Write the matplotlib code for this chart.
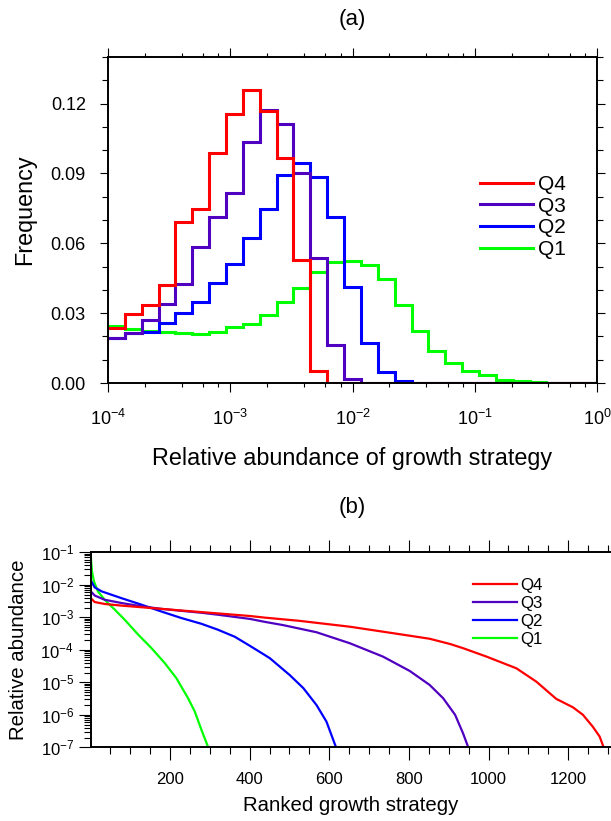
import numpy as np
import matplotlib
matplotlib.use("Agg")
import matplotlib.pyplot as plt
from matplotlib.ticker import LogLocator, MultipleLocator, FuncFormatter, NullFormatter

plt.rcParams['font.family'] = ['Liberation Sans', 'DejaVu Sans']
plt.rcParams['mathtext.fontset'] = 'custom'
plt.rcParams['mathtext.rm'] = 'Liberation Sans'
plt.rcParams['mathtext.default'] = 'regular'

# ---- panel (a): histogram of relative abundance (29 log-spaced bins, 1e-4 .. 1) ----
n_bins = 29
q4_freq = [0.0238, 0.0298, 0.0336, 0.0423, 0.0691, 0.0746, 0.0989, 0.1157, 0.1258, 0.1169,
           0.0968, 0.0528, 0.0050, 0, 0, 0, 0, 0, 0, 0, 0, 0, 0, 0, 0, 0, 0, 0, 0]
q3_freq = [0.0192, 0.0213, 0.0272, 0.0341, 0.0426, 0.0585, 0.0713, 0.0815, 0.1035, 0.1172,
           0.1114, 0.0903, 0.0535, 0.0165, 0.0017, 0.0002, 0, 0, 0, 0, 0, 0, 0, 0, 0, 0, 0, 0, 0]
q2_freq = [0.0195, 0.0214, 0.0220, 0.0258, 0.0301, 0.0347, 0.0430, 0.0513, 0.0622, 0.0749,
           0.0892, 0.0946, 0.0886, 0.0714, 0.0413, 0.0172, 0.0047, 0.0007, 0, 0, 0, 0, 0, 0, 0, 0, 0, 0, 0]
q1_freq = [0.0244, 0.0234, 0.0222, 0.0219, 0.0215, 0.0211, 0.0218, 0.0241, 0.0255, 0.0294,
           0.0347, 0.0409, 0.0476, 0.0519, 0.0526, 0.0506, 0.0445, 0.0334, 0.0222, 0.0139,
           0.0086, 0.0050, 0.0033, 0.0014, 0.0009, 0.0004, 0.0002, 0.0001, 0]

# ---- panel (b): ranked relative abundance (log10 values) ----
q4_rank = [1, 11, 36, 78, 128, 178, 228, 279, 320, 401, 438, 526, 652, 777, 852, 903, 936,
           995, 1070, 1120, 1170, 1212, 1237, 1262, 1279, 1289]
q4_log = [-2.41, -2.53, -2.59, -2.64, -2.69, -2.74, -2.79, -2.84, -2.88, -2.96, -3.01, -3.11,
          -3.29, -3.52, -3.66, -3.82, -3.95, -4.21, -4.57, -4.98, -5.51, -5.77, -6.0, -6.37,
          -6.67, -7.0]
q3_rank = [1, 11, 36, 78, 128, 178, 228, 279, 320, 401, 438, 484, 568, 652, 735, 802, 852,
           886, 916, 936, 949]
q3_log = [-2.2, -2.33, -2.46, -2.56, -2.66, -2.74, -2.80, -2.86, -2.92, -3.05, -3.14, -3.24,
          -3.46, -3.80, -4.21, -4.65, -5.08, -5.49, -6.0, -6.57, -7.0]
q2_rank = [1, 11, 28, 78, 128, 178, 228, 279, 320, 363, 401, 438, 451, 501, 535, 568, 593, 617]
q2_log = [-1.86, -2.08, -2.2, -2.41, -2.61, -2.82, -3.02, -3.2, -3.38, -3.60, -3.88, -4.16,
          -4.26, -4.78, -5.18, -5.70, -6.21, -7.0]
q1_rank = [1, 4, 9, 19, 36, 61, 86, 120, 153, 187, 216, 245, 262, 279, 296]
q1_log = [-1.07, -1.58, -1.89, -2.2, -2.46, -2.76, -3.07, -3.53, -3.94, -4.41, -4.87, -5.48,
          -5.89, -6.46, -7.0]

labels = ['Q4', 'Q3', 'Q2', 'Q1']
colors = ['#ff0000', '#5000c0', '#0000ff', '#00ff00']

W, H = 611, 821
fig = plt.figure(figsize=(W / 100, H / 100), dpi=100)

def px_axes(l, t, r, b):
    return fig.add_axes([l / W, 1 - b / H, (r - l) / W, (b - t) / H])

def pow10(v, pos):
    return r'$10^{%d}$' % round(np.log10(v))

# --- (a) ---
ax1 = px_axes(108, 57, 597, 383)
edges = 10 ** np.linspace(-4, 0, n_bins + 1)
freqs = [q4_freq, q3_freq, q2_freq, q1_freq]
for i in [3, 2, 1, 0]:
    ax1.stairs(freqs[i], edges, baseline=None, color=colors[i], lw=2.2, label=labels[i])
ax1.set_xscale('log')
ax1.set_xlim(1e-4, 1)
ax1.set_ylim(0, 0.14)
ax1.xaxis.set_major_locator(LogLocator(base=10, numticks=10))
ax1.xaxis.set_minor_locator(LogLocator(base=10, subs=(2, 4, 6, 8), numticks=10))
ax1.xaxis.set_major_formatter(FuncFormatter(pow10))
ax1.xaxis.set_minor_formatter(NullFormatter())
ax1.yaxis.set_major_locator(MultipleLocator(0.03))
ax1.yaxis.set_minor_locator(MultipleLocator(0.01))
ax1.yaxis.set_major_formatter(FuncFormatter(lambda v, p: '%.2f' % v))
ax1.tick_params(which='both', direction='out', top=True, right=True, width=0.8)
ax1.tick_params(axis='x', which='major', length=6.5, labelsize=13, pad=12)
ax1.tick_params(axis='x', which='minor', length=3)
ax1.tick_params(axis='y', which='major', length=6, labelsize=13, pad=10)
ax1.tick_params(axis='y', which='minor', length=4)
for s in ax1.spines.values():
    s.set_linewidth(1.4)
h, l = ax1.get_legend_handles_labels()
ax1.legend(h[::-1], l[::-1], loc='upper left', bbox_to_anchor=(480 / W, 1 - 175 / H),
           bbox_transform=fig.transFigure, frameon=False, fontsize=15, handlelength=2.55,
           handletextpad=0.25, labelspacing=0.13, borderpad=0, borderaxespad=0)

fig.text(352 / W, 1 - 20 / H, '(a)', ha='center', va='center', fontsize=16)
fig.text(352 / W, 1 - 458 / H, 'Relative abundance of growth strategy', ha='center',
         va='center', fontsize=16.8)
fig.text(25 / W, 1 - 210 / H, 'Frequency', ha='center', va='center', rotation=90, fontsize=16.8)

# --- (b) ---
ax2 = px_axes(90.7, 552.3, 612, 747.3)
ranks = [q4_rank, q3_rank, q2_rank, q1_rank]
logs = [q4_log, q3_log, q2_log, q1_log]
for i in [3, 2, 1, 0]:
    ax2.plot(ranks[i], 10 ** np.array(logs[i]), color=colors[i], lw=1.6, label=labels[i])
ax2.set_yscale('log')
ax2.set_xlim(1, 1310)
ax2.set_ylim(1e-7, 1e-1)
ax2.xaxis.set_major_locator(MultipleLocator(200))
ax2.xaxis.set_minor_locator(MultipleLocator(50))
ax2.yaxis.set_major_locator(LogLocator(base=10, numticks=10))
ax2.yaxis.set_minor_locator(LogLocator(base=10, subs=np.arange(2, 10), numticks=10))
ax2.yaxis.set_major_formatter(FuncFormatter(pow10))
ax2.yaxis.set_minor_formatter(NullFormatter())
ax2.tick_params(which='both', direction='out', top=True, right=True, width=0.8)
ax2.tick_params(which='major', length=9, labelsize=12, pad=3)
ax2.tick_params(axis='x', which='major', pad=9)
ax2.tick_params(which='minor', length=5)
for s in ax2.spines.values():
    s.set_linewidth(1.4)
h, l = ax2.get_legend_handles_labels()
ax2.legend(h[::-1], l[::-1], loc='upper left', bbox_to_anchor=(473 / W, 1 - 578 / H),
           bbox_transform=fig.transFigure, frameon=False, fontsize=12.2, handlelength=2.6,
           handletextpad=0.2, labelspacing=0.17, borderpad=0, borderaxespad=0)

fig.text(352 / W, 1 - 508 / H, '(b)', ha='center', va='center', fontsize=16)
fig.text(351 / W, 1 - 805 / H, 'Ranked growth strategy', ha='center', va='center', fontsize=14.7)
fig.text(19 / W, 1 - 650 / H, 'Relative abundance', ha='center', va='center', rotation=90,
         fontsize=14.7)

fig.savefig('out.png', dpi=100)
